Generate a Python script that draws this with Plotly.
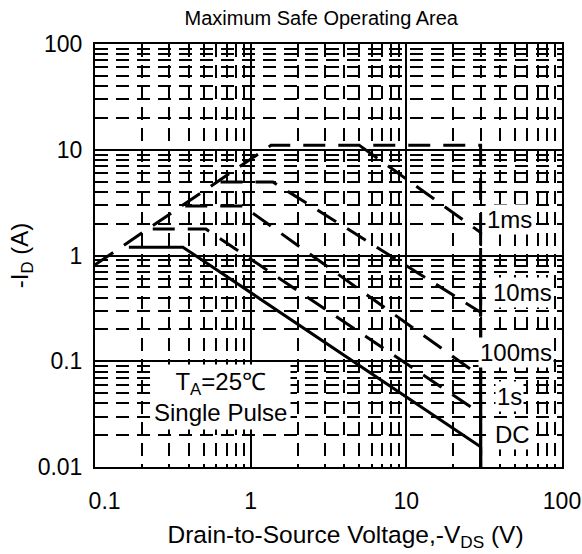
import math
import plotly.graph_objects as go

# ---- data ----
x_ticks = [0.1, 1, 10, 100]
x_ticktext = ["&nbsp;&nbsp;&nbsp;0.1", "1", "10", "100"]
y_ticks = [0.01, 0.1, 1, 10, 100]
y_ticktext = ["0.01", "0.1", "1", "10", "100"]

# RDS(on) limit + package current limit + VDS limit
limit_v = [0.1, 1.35, 30, 30]
limit_i = [0.816, 11, 11, 0.01]

ms1_v = [5.0, 30, 30]
ms1_i = [11, 1.65, 0.01]

ms10_v = [0.64, 1.39, 30, 30]
ms10_i = [4.95, 4.95, 0.29, 0.01]

ms100_v = [0.38, 0.89, 30, 30]
ms100_i = [2.94, 2.94, 0.072, 0.01]

s1_v = [0.235, 0.516, 30, 30]
s1_i = [1.78, 1.78, 0.032, 0.01]

dc_v = [0.165, 0.367, 30, 30]
dc_i = [1.2, 1.2, 0.0155, 0.01]

labels = ["1ms", "10ms", "100ms", "1s", "DC"]
label_v = [46, 56, 51, 46, 48]
label_i = [2.17, 0.45, 0.122, 0.046, 0.0205]

FONT = "Liberation Sans, Arial, sans-serif"
DASH = "22px,13px"

fig = go.Figure()
for v, i, dash in [
    (limit_v, limit_i, DASH),
    (ms1_v, ms1_i, DASH),
    (ms10_v, ms10_i, DASH),
    (ms100_v, ms100_i, DASH),
    (s1_v, s1_i, DASH),
    (dc_v, dc_i, "solid"),
]:
    fig.add_trace(go.Scatter(x=v, y=i, mode="lines",
                             line=dict(color="black", width=3, dash=dash),
                             showlegend=False, hoverinfo="skip"))

annotations = []
for t, v, i in zip(labels, label_v, label_i):
    annotations.append(dict(x=math.log10(v), y=math.log10(i), xref="x", yref="y",
                            text=t, showarrow=False, bgcolor="white", borderpad=1,
                            font=dict(family=FONT, size=24, color="black")))
annotations.append(dict(x=math.log10(0.64), y=math.log10(0.046), xref="x", yref="y",
                        text="T<sub>A</sub>=25℃<br>Single Pulse", showarrow=False,
                        bgcolor="white", borderpad=3, align="center",
                        font=dict(family=FONT, size=24, color="black")))

axis_common = dict(
    type="log", showline=True, mirror=True, linecolor="black", linewidth=2,
    showgrid=True, gridcolor="black", gridwidth=2, ticks="", zeroline=False,
    automargin=False,
    tickfont=dict(family=FONT, size=23, color="black"),
    minor=dict(dtick="D1", showgrid=True, gridcolor="black", gridwidth=1.5,
               griddash="13px,8px", ticks=""),
)

fig.update_layout(
    width=582, height=554,
    margin=dict(l=95, r=20, t=44, b=87),
    paper_bgcolor="white", plot_bgcolor="white",
    title=dict(text="Maximum Safe Operating Area", x=0.552, xanchor="center",
               y=1 - 18 / 554, yanchor="middle",
               font=dict(family=FONT, size=20, color="black")),
    xaxis=dict(axis_common, range=[-1, 2], tickvals=x_ticks, ticktext=x_ticktext,
               ticklabelstandoff=12,
               title=dict(text="&nbsp;&nbsp;&nbsp;&nbsp;&nbsp;Drain-to-Source Voltage,-V<sub>DS</sub> (V)",
                          font=dict(family=FONT, size=24.5, color="black"), standoff=13)),
    yaxis=dict(axis_common, range=[-2, 2], tickvals=y_ticks, ticktext=y_ticktext,
               ticklabelstandoff=6,
               title=dict(text="-I<sub>D</sub> (A)",
                          font=dict(family=FONT, size=24, color="black"), standoff=2)),
    annotations=annotations,
)

fig.write_html("out.html", config={"displayModeBar": False},
               post_script="document.body.style.margin='0';document.body.style.padding='0';")
